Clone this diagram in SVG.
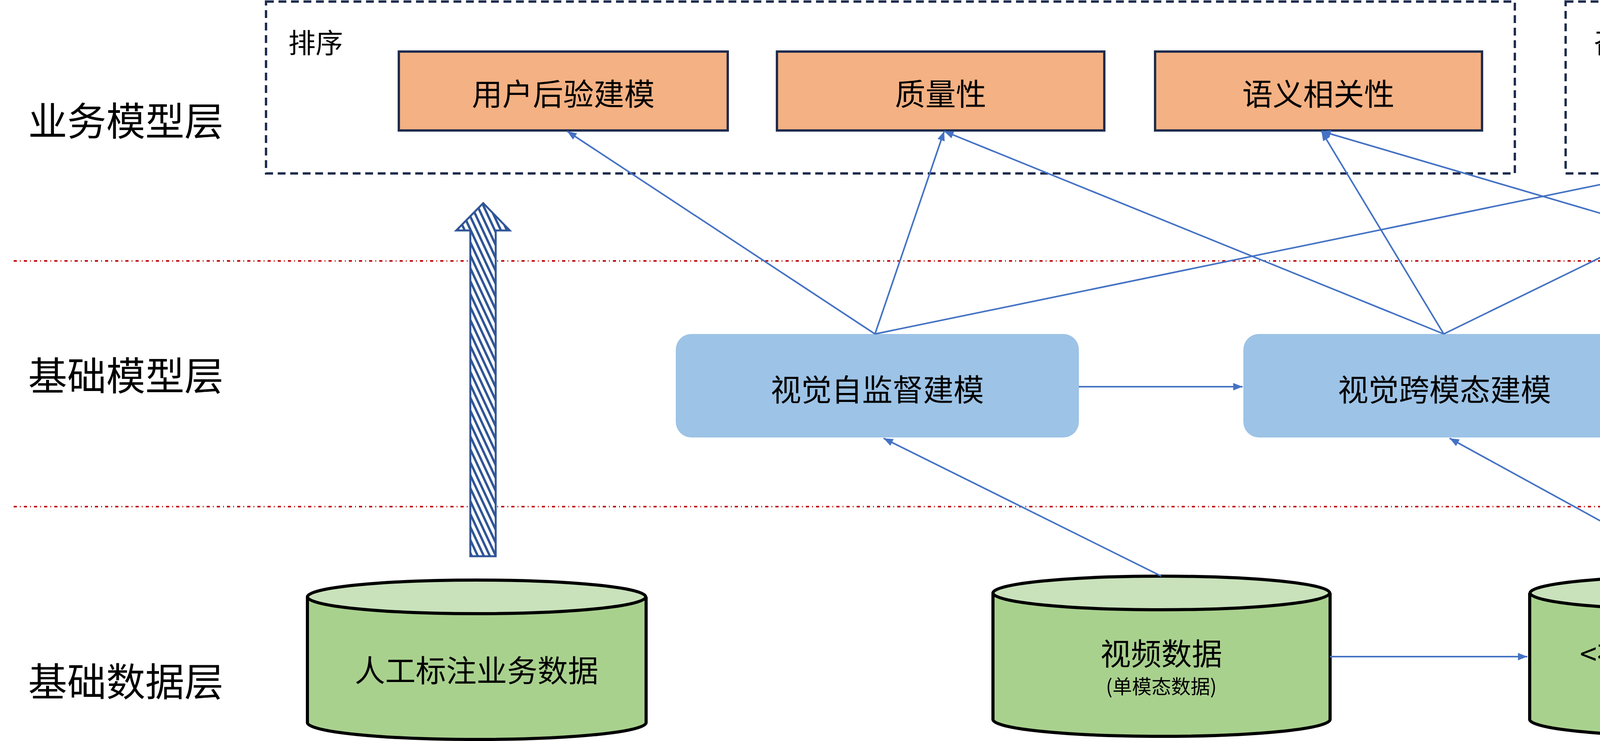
<svg xmlns="http://www.w3.org/2000/svg" width="6567" height="1897" viewBox="0 0 6567 1897">
<style>
text{font-family:"Noto Sans CJK SC","Liberation Sans",sans-serif;fill:#000;text-anchor:middle;dominant-baseline:central}
.layer{font-size:100px;text-anchor:start}
.grp{fill:none;stroke:#1F2D4E;stroke-width:6;stroke-dasharray:20 12}
.sep{stroke:#C00000;stroke-width:4;stroke-dasharray:8 8 2 8}
.biz rect{fill:#F4B183;stroke:#1F2D4E;stroke-width:6}
.base rect{fill:#9DC3E6}
.cyl .body{fill:#A9D18E;stroke:#000;stroke-width:8}
.cyl .top{fill:#C9E2BB;stroke:#000;stroke-width:8}
.t80{font-size:78px}
.t50{font-size:50px}
#connectors line{stroke:#4472C4;stroke-width:4;fill:none;marker-end:url(#ah)}
</style>
<defs>
<marker id="ah" viewBox="0 0 10 10" refX="10" refY="5" markerWidth="8" markerHeight="6" orient="auto" markerUnits="strokeWidth">
<path d="M0,1 L10,5 L0,9 z" fill="#4472C4"/>
</marker>
<pattern id="hatch" width="14" height="14" patternUnits="userSpaceOnUse" patternTransform="rotate(-25)">
<rect width="14" height="14" fill="#fff"/>
<rect width="6" height="14" fill="#2F5597"/>
</pattern>
</defs>
<rect width="6567" height="1897" fill="#fff"/>
<text class="layer" x="72" y="303">业务模型层</text>
<text class="layer" x="72" y="955">基础模型层</text>
<text class="layer" x="72" y="1738">基础数据层</text>
<line class="sep" x1="35" y1="668" x2="6567" y2="668"/>
<line class="sep" x1="35" y1="1297" x2="6567" y2="1297"/>
<g id="group-sort"><rect class="grp" x="681" y="4" width="3197" height="440"/><text x="808" y="105" style="font-size:70px">排序</text></g>
<g id="group-recall"><rect class="grp" x="4008" y="4" width="2366" height="440"/><text x="4150" y="105" style="font-size:70px">召回</text></g>
<g id="n-user" class="biz"><rect x="1021" y="132" width="842" height="202"/><text class="t80" x="1442" y="236">用户后验建模</text></g>
<g id="n-quality" class="biz"><rect x="1989" y="132" width="838" height="202"/><text class="t80" x="2408" y="236">质量性</text></g>
<g id="n-sem" class="biz"><rect x="2957" y="132" width="837" height="202"/><text class="t80" x="3375" y="236">语义相关性</text></g>
<g id="n-ann" class="biz"><rect x="4352" y="132" width="838" height="202"/><text class="t80" x="4771" y="236">ANN召回</text></g>
<g id="n-inv" class="biz"><rect x="5353" y="132" width="842" height="202"/><text class="t80" x="5774" y="236">倒排召回</text></g>
<g id="n-ssl" class="base"><rect x="1730" y="855" width="1032" height="265" rx="40"/><text class="t80" x="2246" y="993">视觉自监督建模</text></g>
<g id="n-cross" class="base"><rect x="3183" y="855" width="1030" height="265" rx="40"/><text class="t80" x="3698" y="993">视觉跨模态建模</text></g>
<g id="n-sparse" class="base"><rect x="4632" y="855" width="1030" height="265" rx="40"/><text class="t80" x="5147" y="993">视觉向量稀疏化</text></g>
<g id="n-manual" class="cyl"><path class="body" d="M787,1528 V1850 A433,43 0 0 0 1654,1850 V1528"/><ellipse class="top" cx="1220" cy="1528" rx="433" ry="43"/><text class="t80" x="1220" y="1712">人工标注业务数据</text></g>
<g id="n-video" class="cyl"><path class="body" d="M2542,1518 V1842 A431,43 0 0 0 3405,1842 V1518"/><ellipse class="top" cx="2973" cy="1518" rx="431" ry="43"/><text class="t80" x="2973" y="1669">视频数据</text><text class="t50" x="2973" y="1754">(单模态数据)</text></g>
<g id="n-vt" class="cyl"><path class="body" d="M3916,1518 V1842 A433,43 0 0 0 4783,1842 V1518"/><ellipse class="top" cx="4350" cy="1518" rx="433" ry="43"/><text class="t80" x="4350" y="1669">&lt;视频, 文本&gt; 数据</text><text class="t50" x="4350" y="1754">(跨模态数据)</text></g>
<g id="hatched-arrow"><path d="M1204,1424 V590 H1168 L1237,520 L1305,590 H1269 V1424 Z" fill="url(#hatch)" stroke="#2F5597" stroke-width="5"/></g>
<g id="connectors">
<line x1="2240" y1="855" x2="1452" y2="336"/>
<line x1="2240" y1="855" x2="2417" y2="336"/>
<line x1="2240" y1="855" x2="4759" y2="336"/>
<line x1="3696" y1="855" x2="2417" y2="336"/>
<line x1="3696" y1="855" x2="3383" y2="336"/>
<line x1="3696" y1="855" x2="4759" y2="336"/>
<line x1="5148" y1="855" x2="3383" y2="336"/>
<line x1="5148" y1="855" x2="4775" y2="336"/>
<line x1="5148" y1="855" x2="5759" y2="336"/>
<line x1="2762" y1="990" x2="3181" y2="990"/>
<line x1="4213" y1="990" x2="4630" y2="990"/>
<line x1="2973" y1="1475" x2="2262" y2="1122"/>
<line x1="4355" y1="1475" x2="3711" y2="1122"/>
<line x1="4355" y1="1475" x2="5134" y2="1122"/>
<line x1="3405" y1="1681" x2="3910" y2="1681"/>
</g>
</svg>
